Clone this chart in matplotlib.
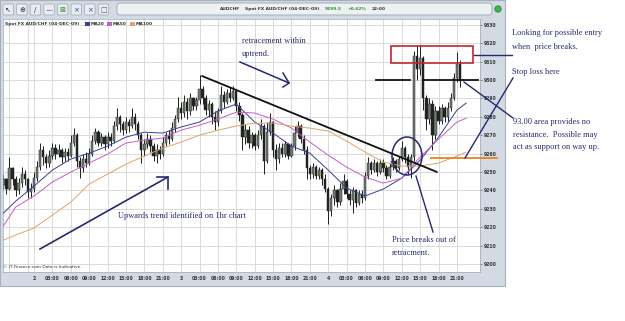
import matplotlib
matplotlib.use('Agg')
import matplotlib.pyplot as plt
from matplotlib.patches import Rectangle, Ellipse, FancyBboxPatch, Circle

# ---------------- data ----------------
start_hour = -5.0          # hours relative to 2-Dec-09 00:00
bar_hours = 0.5            # 30-minute candles
open0 = 9243
closes = [9246, 9241, 9252, 9246, 9240, 9244, 9249, 9246, 9239, 9241,
          9247, 9253, 9262, 9258, 9255, 9259, 9263, 9260, 9262, 9258,
          9261, 9259, 9266, 9270, 9256, 9252, 9257, 9255, 9260, 9267,
          9272, 9266, 9269, 9265, 9269, 9267, 9275, 9280, 9276, 9273,
          9277, 9275, 9280, 9276, 9270, 9262, 9265, 9268, 9264, 9259,
          9262, 9260, 9266, 9270, 9268, 9274, 9279, 9285, 9282, 9288,
          9283, 9290, 9286, 9289, 9295, 9290, 9284, 9287, 9280, 9277,
          9283, 9292, 9288, 9293, 9290, 9294, 9286, 9281, 9269, 9273,
          9266, 9270, 9264, 9270, 9275, 9256, 9272, 9277, 9262, 9257,
          9263, 9260, 9265, 9259, 9264, 9271, 9275, 9268, 9262, 9252,
          9249, 9253, 9248, 9251, 9246, 9241, 9229, 9236, 9240, 9234,
          9241, 9245, 9238, 9235, 9240, 9233, 9238, 9236, 9248, 9255,
          9251, 9255, 9250, 9255, 9252, 9248, 9253, 9256, 9252, 9257,
          9263, 9258, 9253, 9258, 9313, 9306, 9312, 9290, 9279, 9287,
          9270, 9283, 9278, 9285, 9280, 9285, 9290, 9301, 9309, 9299.5]
highs = [9249, 9247, 9258, 9253, 9248, 9247, 9253, 9251, 9247, 9244,
         9250, 9256, 9266, 9264, 9260, 9262, 9266, 9265, 9265, 9263,
         9263, 9263, 9270, 9274, 9271, 9258, 9260, 9261, 9263, 9270,
         9274, 9273, 9271, 9270, 9272, 9271, 9278, 9285, 9281, 9278,
         9280, 9279, 9285, 9282, 9278, 9271, 9268, 9271, 9270, 9266,
         9265, 9264, 9269, 9272, 9273, 9277, 9281, 9291, 9288, 9292,
         9290, 9293, 9291, 9291, 9303, 9297, 9292, 9289, 9288, 9283,
         9285, 9297, 9294, 9295, 9296, 9297, 9295, 9288, 9282, 9276,
         9275, 9272, 9271, 9273, 9279, 9276, 9277, 9282, 9278, 9265,
         9266, 9266, 9267, 9266, 9266, 9275, 9278, 9276, 9270, 9264,
         9254, 9255, 9254, 9253, 9252, 9249, 9242, 9238, 9243, 9241,
         9244, 9249, 9246, 9240, 9242, 9241, 9240, 9240, 9250, 9258,
         9256, 9257, 9256, 9257, 9257, 9254, 9255, 9258, 9257, 9259,
         9267, 9264, 9260, 9260, 9316, 9319, 9319, 9313, 9292, 9290,
         9289, 9286, 9286, 9287, 9286, 9288, 9293, 9304, 9315, 9311]
lows = [9240, 9238, 9240, 9243, 9237, 9238, 9242, 9243, 9236, 9236,
        9239, 9245, 9251, 9254, 9252, 9253, 9257, 9257, 9258, 9255,
        9256, 9256, 9258, 9264, 9253, 9247, 9250, 9253, 9254, 9259,
        9265, 9264, 9264, 9262, 9263, 9264, 9266, 9273, 9272, 9270,
        9271, 9272, 9274, 9273, 9268, 9255, 9259, 9263, 9261, 9256,
        9255, 9257, 9259, 9264, 9265, 9267, 9272, 9277, 9279, 9280,
        9279, 9281, 9284, 9284, 9287, 9287, 9281, 9280, 9276, 9273,
        9275, 9282, 9285, 9287, 9288, 9289, 9283, 9278, 9262, 9265,
        9263, 9263, 9262, 9263, 9268, 9249, 9255, 9270, 9258, 9251,
        9255, 9258, 9258, 9257, 9258, 9262, 9269, 9266, 9260, 9246,
        9246, 9247, 9246, 9246, 9243, 9239, 9222, 9226, 9232, 9231,
        9232, 9238, 9236, 9232, 9228, 9231, 9232, 9233, 9235, 9246,
        9249, 9250, 9248, 9249, 9250, 9246, 9247, 9251, 9250, 9251,
        9256, 9255, 9249, 9247, 9256, 9300, 9303, 9284, 9273, 9276,
        9262, 9268, 9276, 9276, 9277, 9278, 9283, 9289, 9299, 9296]

ma_times = [-5, -3, 0, 3, 6, 9, 12, 15, 18, 21, 24, 27, 30, 33, 36, 39, 42,
            45, 48, 51, 54, 57, 60, 63, 66, 69, 70.5]
ma30 = [9227.7, 9234.2, 9242.4, 9251.1, 9257.1, 9260.3, 9264.1, 9269.0, 9271.7,
        9271.2, 9274.5, 9277.2, 9283.2, 9287.0, 9277.2, 9271.2, 9264.1, 9260.3,
        9251.1, 9241.3, 9237.0, 9240.8, 9246.7, 9256.5, 9269.0, 9283.7, 9287.5]
ma50 = [9220.7, 9231.0, 9237.0, 9244.6, 9250.0, 9254.9, 9259.8, 9265.8, 9267.4,
        9268.5, 9272.8, 9275.5, 9278.8, 9282.6, 9282.1, 9278.8, 9273.9, 9266.3,
        9259.2, 9252.7, 9247.3, 9244.0, 9246.7, 9258.2, 9267.9, 9277.2, 9279.3]
ma100 = [9213.0, 9215.8, 9219.6, 9226.6, 9233.7, 9243.5, 9248.9, 9254.3, 9258.7,
         9263.0, 9266.3, 9270.1, 9272.8, 9275.0, 9276.6, 9276.6, 9275.0, 9273.9,
         9272.3, 9266.8, 9260.9, 9255.4, 9253.3, 9253.3, 9254.9, 9258.7, 9260.9]
ma_names = ['MA20', 'MA50', 'MA100']
ma_colors = ['#3b3f9a', '#c25fc8', '#e0a36a']

price_ticks = [9200, 9210, 9220, 9230, 9240, 9250, 9260, 9270, 9280, 9290,
               9300, 9310, 9320, 9330]
time_ticks = [0, 3, 6, 9, 12, 15, 18, 21, 24, 27, 30, 33, 36, 39, 42, 45,
              48, 51, 54, 57, 60, 63, 66, 69]
time_labels = ['2', '03:00', '06:00', '09:00', '12:00', '15:00', '18:00', '21:00',
               '3', '03:00', '06:00', '09:00', '12:00', '15:00', '18:00', '21:00',
               '4', '03:00', '06:00', '09:00', '12:00', '15:00', '18:00', '21:00']
extra_grid_times = [-4, -1]

# ---------------- figure ----------------
W, H = 625, 321
fig = plt.figure(figsize=(6.25, 3.21), dpi=100)
fig.patch.set_facecolor('white')

def px_axes(z):
    a = fig.add_axes([0, 0, 1, 1], zorder=z)
    a.set_xlim(0, W)
    a.set_ylim(H, 0)
    a.axis('off')
    a.patch.set_alpha(0)
    return a

bg = px_axes(0)
panel = '#d3dae3'
bg.add_patch(Rectangle((0, 0), 505, 286, facecolor=panel, edgecolor='#a7b1bd', lw=0.8))
# toolbar buttons
icon_marks = ['\u2196', '\u2295', '/', '\u2014', '\u22a0', '\u00d7', '\u00d7', '\u25a1']
icon_cols = ['#333', '#333', '#223a9a', '#223a9a', '#2a8a2a', '#3340b0', '#3340b0', '#555']
for k, (m, c) in enumerate(zip(icon_marks, icon_cols)):
    bx = 3 + 13.6 * k
    bg.add_patch(FancyBboxPatch((bx, 4), 10.5, 11, boxstyle='round,pad=0,rounding_size=1.5',
                                facecolor='#e9edf1', edgecolor='#9aa4b0', lw=0.5))
    bg.text(bx + 5.25, 9.8, m, fontsize=5, color=c, ha='center', va='center',
            family='DejaVu Sans')
# text field
bg.add_patch(FancyBboxPatch((117, 3), 375, 12, boxstyle='round,pad=0,rounding_size=3',
                            facecolor='#eef1f4', edgecolor='#9aa4b0', lw=0.6))
bg.add_patch(Circle((498, 9), 3.2, facecolor='#3bb34a', edgecolor='#2a7a2a', lw=0.5))
tb_font = dict(fontsize=3.2, fontweight='bold', va='center', family='DejaVu Sans')
bg.text(220, 9, 'AUDCHF', color='#333333', **tb_font)
bg.text(245, 9, 'Spot FX AUD/CHF (04-DEC-09)', color='#333333', **tb_font)
bg.text(325, 9, '9299.5', color='#2f8f2f', **tb_font)
bg.text(348, 9, '+0.62%', color='#2f8f2f', **tb_font)
bg.text(372, 9, '22:00', color='#333333', **tb_font)

# ---------------- chart ----------------
x0, x1 = -5.06, 72.76
y0, y1 = 9195.7, 9333.2
ax = fig.add_axes([3 / W, 1 - 272 / H, 477 / W, 253 / H], zorder=1)
ax.set_facecolor('white')
ax.set_xlim(x0, x1)
ax.set_ylim(y0, y1)

grid_c = '#d4d4d4'
for p in price_ticks:
    ax.axhline(p, color=grid_c, lw=0.6, zorder=0)
for t in extra_grid_times + time_ticks:
    ax.axvline(t, color=grid_c, lw=0.6, zorder=0)

# candles
opens = [open0] + closes[:-1]
times = [start_hour + bar_hours * i for i in range(len(closes))]
bw = bar_hours * 0.78
for t, o, h, l, c in zip(times, opens, highs, lows, closes):
    ax.vlines(t, l, h, color='#1e1e1e', lw=0.7, zorder=2)
    bull = c >= o
    bottom = min(o, c)
    height = max(abs(c - o), 0.5)
    ax.bar(t, height, bottom=bottom, width=bw,
           color='#6f7d6f' if bull else '#1f221f',
           edgecolor='#2a2a2a', linewidth=0.35, zorder=3)

for vals, col in zip([ma30, ma50, ma100], ma_colors):
    ax.plot(ma_times, vals, color=col, lw=0.7, zorder=4)

ax.yaxis.tick_right()
ax.set_yticks(price_ticks)
ax.set_yticklabels([str(p) for p in price_ticks])
ax.tick_params(axis='y', right=True, length=1.5, width=0.4, pad=1.2, labelsize=3.3,
               colors='#333333')
ax.set_xticks(time_ticks)
ax.set_xticklabels(time_labels)
ax.tick_params(axis='x', length=0, pad=3.0, labelsize=3.3, colors='#333333')
for lab in ax.get_xticklabels() + ax.get_yticklabels():
    lab.set_fontweight('bold')
for s in ax.spines.values():
    s.set_color('#a0a8b2')
    s.set_linewidth(0.5)

# ---------------- overlay (legend, footnote, hand annotations) ----------------
ov = px_axes(5)
small = dict(fontsize=3.2, fontweight='bold', va='center', family='DejaVu Sans')
ov.text(5, 24, 'Spot FX AUD/CHF (04-DEC-09)', color='#333333', **small)
for lx, name, col in zip([85, 107, 130], ma_names, ma_colors):
    ov.add_patch(Rectangle((lx, 22.3), 4.5, 3.4, facecolor=col, edgecolor='none'))
    ov.text(lx + 5.5, 24, name, color='#333333', **small)
ov.text(3, 267.5, '\u00a9 IT-Finance.com Data is Indicative.', color='#333333',
        fontsize=3.2, va='center', family='DejaVu Sans')

navy = '#252a6e'
blk = '#111111'
# trend line
ov.plot([202, 437], [76, 172], color=blk, lw=1.3, solid_capstyle='round')
# retracement arrow
ov.plot([240, 289], [62, 83], color=navy, lw=1.1)
ov.plot([283, 289, 283], [73, 83, 87], color=navy, lw=1.1)
# upward trend arrow
ov.plot([40, 168], [249, 177], color=navy, lw=1.2)
ov.plot([157, 168, 168], [177, 177, 189], color=navy, lw=1.2)
# circle
ov.add_patch(Ellipse((407, 156), 30, 38, facecolor='none', edgecolor=navy, lw=1.1))
ov.plot([416, 433], [176, 232], color=navy, lw=1.0)
# red box & levels
ov.add_patch(Rectangle((391, 46), 82, 17, facecolor='none', edgecolor='#c0282e', lw=1.2))
ov.plot([376, 410], [80, 80], color=blk, lw=1.3)
ov.plot([423, 478], [80, 80], color=blk, lw=1.3)
ov.plot([431, 497], [158, 158], color='#e8821e', lw=1.3)
# connectors to notes
ov.plot([474, 512], [55, 55], color=navy, lw=1.0)
ov.plot([513, 465], [78, 158], color=navy, lw=1.0)
ov.plot([513, 464], [118, 82], color=navy, lw=1.0)

note = dict(fontsize=6, color=navy, va='center', family='Liberation Serif')
ov.text(242, 41, 'retracement within', **note)
ov.text(242, 54, 'uptrend.', **note)
ov.text(118, 216, 'Upwards trend identified on 1hr chart', **note)
ov.text(392, 240, 'Price breaks out of', **note)
ov.text(392, 253, 'retracment.', **note)
ov.text(512, 33, 'Looking for possible entry', **note)
ov.text(512, 47, 'when  price breaks.', **note)
ov.text(512, 72, 'Stop loss here', **note)
ov.text(513, 122, '93.00 area provides no', **note)
ov.text(513, 135, 'resistance.  Possible may', **note)
ov.text(513, 147, 'act as support on way up.', **note)

fig.savefig('out.png', dpi=100, facecolor='white')
